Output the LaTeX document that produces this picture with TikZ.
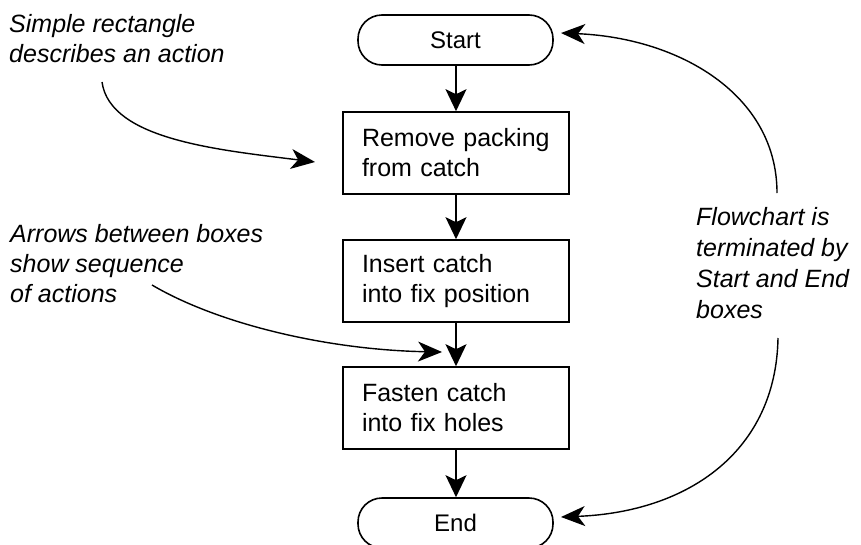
\documentclass[tikz,border=0pt]{standalone}
\usepackage{fontspec}
\setmainfont{Liberation Sans}
\usetikzlibrary{arrows.meta}
\begin{document}
\begin{tikzpicture}[x=1pt,y=-1pt,
  stepbox/.style={draw, line width=1.6pt, minimum width=226pt, minimum height=82pt,
    text width=188pt, align=left, inner xsep=19pt, inner ysep=0pt,
    font=\fontsize{25}{30}\selectfont},
  terminal/.style={draw, line width=1.6pt, rounded corners=24pt,
    minimum width=195pt, minimum height=50pt, inner sep=0pt,
    font=\fontsize{24}{30}\selectfont},
  flow/.style={line width=1.6pt, -{Stealth[length=22pt,width=21pt,inset=5pt]}},
  pointer/.style={line width=1.4pt, -{Stealth[length=24pt,width=20pt,inset=7pt]}},
  note/.style={font=\itshape\fontsize{25}{30}\selectfont, align=left,
    inner sep=0pt, anchor=north west}]
  \useasboundingbox (0,0) rectangle (861,544);

  % main sequence
  \node[terminal] (start) at (455.5,40) {Start};
  \node[stepbox] (remove) at (456,153) {Remove packing\\from catch};
  \node[stepbox] (insert) at (456,281) {Insert catch\\into fix position};
  \node[stepbox] (fasten) at (456,408) {Fasten catch\\into fix holes};
  \node[terminal] (end) at (455.5,523) {End};

  \draw[flow] (start.south -| remove.north) -- (remove.north);
  \draw[flow] (remove) -- (insert);
  \draw[flow] (insert) -- (fasten);
  \draw[flow] (fasten.south) -- (fasten.south |- end.north);

  % annotations
  \node[note] (n1) at (9,14) {Simple rectangle\\describes an action};
  \node[note] (n2) at (10,224) {Arrows between boxes\\show sequence\\of actions};
  \node[note, font=\itshape\fontsize{25}{31}\selectfont] (n3) at (696,207)
    {Flowchart is\\terminated by\\Start and End\\boxes};

  \coordinate (p1s) at (102,82);
  \coordinate (p1e) at (315,162);
  \coordinate (p2s) at (152,285);
  \coordinate (p2e) at (442,352);
  \coordinate (p3s) at (777,193);
  \coordinate (p3e) at (561,33);
  \coordinate (p4s) at (778,338);
  \coordinate (p4e) at (561,517);

  \draw[pointer] (p1s) .. controls (110,140) and (220,150) .. (p1e);
  \draw[pointer] (p2s) .. controls (220,325) and (330,350) .. (p2e);
  \draw[pointer] (p3s) .. controls (777,95) and (680,38) .. (p3e);
  \draw[pointer] (p4s) .. controls (776,450) and (690,512) .. (p4e);
\end{tikzpicture}
\end{document}
